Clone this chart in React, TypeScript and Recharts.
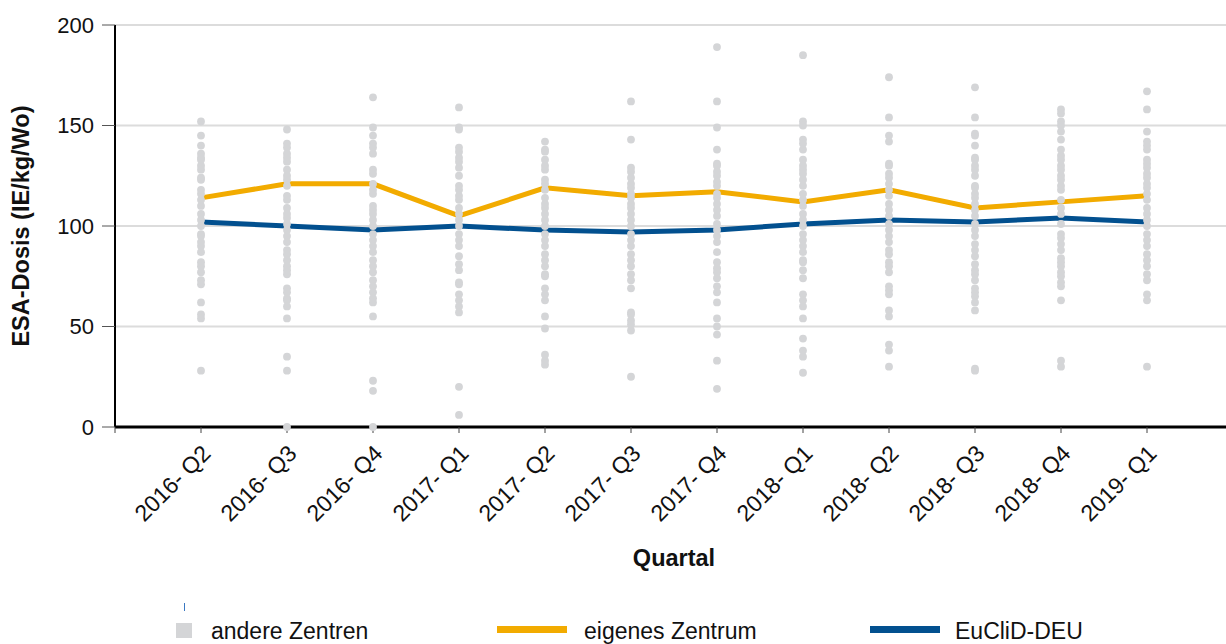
import { ComposedChart, Line, Scatter, XAxis, YAxis, CartesianGrid, Legend, Label } from 'recharts'

const QUARTALE = ['2016- Q2', '2016- Q3', '2016- Q4', '2017- Q1', '2017- Q2', '2017- Q3', '2017- Q4', '2018- Q1', '2018- Q2', '2018- Q3', '2018- Q4', '2019- Q1']

// andere Zentren, eine Liste pro Quartal
const ANDERE = [
  [152, 145, 140, 136, 134, 133, 130, 128, 124, 123, 118, 116, 113, 110, 106, 103, 100, 96, 95, 92, 90, 87, 82, 80, 77, 73, 71, 62, 56, 54, 28],
  [148, 141, 139, 136, 134, 132, 128, 125, 123, 120, 115, 113, 109, 106, 104, 101, 98, 95, 92, 88, 86, 83, 80, 78, 76, 69, 67, 64, 63, 60, 54, 35, 28, 0],
  [164, 149, 145, 141, 139, 136, 128, 126, 121, 118, 116, 110, 108, 106, 103, 100, 96, 93, 90, 87, 83, 80, 77, 73, 70, 67, 64, 62, 55, 23, 18, 0],
  [159, 149, 148, 139, 137, 134, 132, 129, 125, 120, 118, 115, 113, 109, 106, 103, 100, 96, 93, 90, 85, 81, 78, 72, 71, 66, 63, 60, 57, 20, 6],
  [142, 138, 137, 133, 130, 128, 123, 121, 118, 114, 111, 109, 106, 103, 100, 96, 93, 90, 86, 83, 80, 76, 75, 69, 66, 63, 55, 49, 36, 33, 31],
  [162, 143, 129, 127, 124, 121, 119, 116, 114, 111, 109, 106, 103, 100, 96, 93, 90, 86, 83, 80, 76, 73, 69, 57, 56, 53, 51, 48, 25],
  [189, 162, 149, 138, 131, 130, 127, 125, 122, 120, 116, 114, 111, 108, 105, 101, 98, 95, 92, 87, 82, 79, 77, 74, 70, 67, 62, 54, 50, 46, 33, 19],
  [185, 152, 150, 143, 141, 138, 133, 130, 128, 126, 123, 120, 116, 113, 110, 106, 103, 100, 96, 93, 90, 87, 83, 82, 78, 74, 66, 63, 60, 54, 44, 38, 35, 27],
  [174, 154, 145, 142, 131, 130, 126, 124, 121, 118, 115, 111, 108, 105, 101, 98, 95, 92, 88, 86, 82, 80, 77, 70, 68, 66, 58, 55, 41, 38, 30],
  [169, 154, 146, 145, 140, 134, 133, 130, 128, 125, 120, 119, 116, 114, 111, 108, 105, 101, 98, 95, 91, 88, 85, 81, 78, 76, 73, 69, 67, 65, 62, 58, 29, 28],
  [158, 156, 152, 150, 147, 143, 138, 135, 133, 130, 128, 125, 123, 120, 118, 113, 109, 106, 101, 96, 94, 91, 88, 84, 82, 80, 77, 75, 72, 70, 63, 33, 30],
  [167, 158, 147, 142, 140, 138, 133, 131, 129, 126, 124, 121, 119, 116, 113, 109, 106, 103, 100, 96, 93, 90, 86, 83, 80, 76, 73, 66, 63, 30],
]
const EIGENES = [114, 121, 121, 105, 119, 115, 117, 112, 118, 109, 112, 115]
const EUCLID = [102, 100, 98, 100, 98, 97, 98, 101, 103, 102, 104, 102]
const Y_TICKS = [0, 50, 100, 150, 200]

const GRAU = '#d4d5d7'
const ORANGE = '#f2ab00'
const BLAU = '#02508f'
const FONT = '"Liberation Sans", Arial, sans-serif'

const X_TICKS = [0, ...QUARTALE.map((_, i) => i + 1)]
const andereData = ANDERE.flatMap((werte, i) => werte.map((v) => ({ x: i + 1, y: v })))
const eigenesData = EIGENES.map((v, i) => ({ x: i + 1, y: v }))
const euclidData = EUCLID.map((v, i) => ({ x: i + 1, y: v }))

function QuartalTick(props: any) {
  const { x, y, payload } = props
  const label = QUARTALE[payload.value - 1]
  if (!label) return null
  const ax = x + 11
  const ay = y + 20
  return (
    <text x={ax} y={ay} transform={`rotate(-45, ${ax}, ${ay})`} textAnchor="end" fontSize={23} fontFamily={FONT} fill="#111">
      {label}
    </text>
  )
}

function Punkt(props: any) {
  return <circle cx={props.cx} cy={props.cy} r={3.9} fill={GRAU} />
}

function Legende() {
  return (
    <svg width={1226} height={49} style={{ display: 'block' }}>
      <line x1={184.5} x2={184.5} y1={8} y2={16} stroke="#3a78c2" strokeWidth={1} />
      <rect x={176} y={28} width={16} height={15} fill={GRAU} />
      <text x={211} y={44} fontSize={23} fontFamily={FONT} fill="#111">andere Zentren</text>
      <rect x={497} y={31} width={70} height={7} fill={ORANGE} />
      <text x={584} y={44} fontSize={23} fontFamily={FONT} fill="#111">eigenes Zentrum</text>
      <rect x={870} y={31} width={70} height={7} fill={BLAU} />
      <text x={955} y={44} fontSize={23} fontFamily={FONT} fill="#111">EuCliD-DEU</text>
    </svg>
  )
}

export default function App() {
  return (
    <div style={{ position: 'absolute', left: 0, top: 0, width: 1226, height: 644, overflow: 'hidden', background: '#fff' }}>
      <ComposedChart width={1233} height={644} margin={{ top: 25, right: 0, bottom: 0, left: 0 }}>
        <CartesianGrid horizontal vertical={false} stroke="#dcdcdc" strokeWidth={2} />
        <XAxis
          type="number"
          dataKey="x"
          domain={[0, 13]}
          ticks={X_TICKS}
          interval={0}
          height={217}
          axisLine={{ stroke: '#000', strokeWidth: 3 }}
          tickLine={{ stroke: '#444', strokeWidth: 1 }}
          tickSize={6}
          tickMargin={2}
          tick={<QuartalTick />}
        >
          <Label
            content={({ viewBox }: any) => (
              <text x={viewBox.x + viewBox.width / 2} y={566} textAnchor="middle" fontSize={23.5} fontWeight="bold" fontFamily={FONT} fill="#111">
                Quartal
              </text>
            )}
          />
        </XAxis>
        <YAxis
          type="number"
          dataKey="y"
          domain={[0, 200]}
          ticks={Y_TICKS}
          width={115}
          axisLine={{ stroke: '#000', strokeWidth: 2 }}
          tickLine={{ stroke: '#555', strokeWidth: 1 }}
          tickSize={13}
          tickMargin={8}
          tick={{ fontSize: 22, fontFamily: FONT, fill: '#111' }}
        >
          <Label
            content={({ viewBox }: any) => {
              const cy = viewBox.y + viewBox.height / 2
              return (
                <text x={29} y={cy} transform={`rotate(-90, 29, ${cy})`} textAnchor="middle" fontSize={23.5} fontWeight="bold" fontFamily={FONT} fill="#111">
                  ESA-Dosis (IE/kg/Wo)
                </text>
              )
            }}
          />
        </YAxis>
        <Line data={eigenesData} dataKey="y" name="eigenes Zentrum" type="linear" stroke={ORANGE} strokeWidth={5} dot={false} activeDot={false} isAnimationActive={false} />
        <Line data={euclidData} dataKey="y" name="EuCliD-DEU" type="linear" stroke={BLAU} strokeWidth={5} dot={false} activeDot={false} isAnimationActive={false} />
        <Scatter data={andereData} dataKey="y" name="andere Zentren" fill={GRAU} shape={<Punkt />} isAnimationActive={false} />
        <Legend
          layout="horizontal"
          verticalAlign="middle"
          align="center"
          content={() => <Legende />}
          wrapperStyle={{ position: 'absolute', top: 595, left: 0, width: 1226, height: 49 }}
        />
      </ComposedChart>
    </div>
  )
}
